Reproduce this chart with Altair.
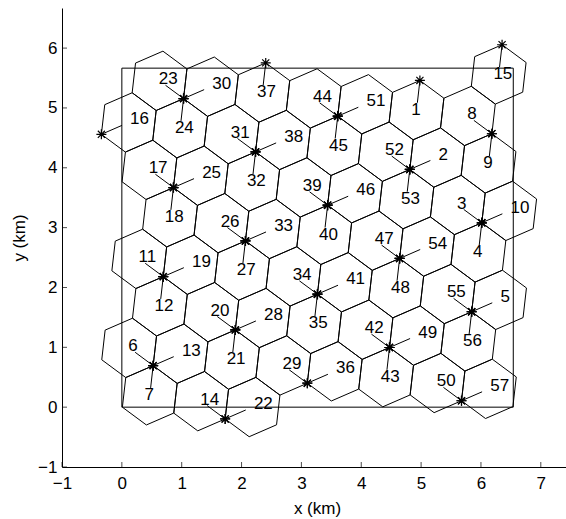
import math
import altair as alt
import pandas as pd

# ---- data (km) ----
# base-station sites (stars)
site_x = [4.980, 4.811, 6.014, 5.845, 0.523, 6.183, 0.692, 1.726, 6.353, -0.342, 0.862, 1.896,
          1.031, 2.065, 3.099, 2.234, 3.268, 2.404, 3.438, 4.472, 3.607, 4.641, 5.675]
site_y = [5.459, 3.972, 3.081, 1.594, 0.694, 4.569, 2.181, -0.197, 6.056, 4.559, 3.669, 1.291,
          5.156, 2.778, 0.400, 4.266, 1.888, 5.753, 3.375, 0.997, 4.862, 2.485, 0.107]
# cell number of each sector (a = upper-left, b = right, c = down); 0 = not drawn
cell_a = [0, 52, 3, 55, 6, 8, 11, 14, 0, 0, 17, 20, 23, 26, 29, 31, 34, 0, 39, 42, 44, 47, 50]
cell_b = [0, 2, 10, 5, 13, 0, 19, 22, 0, 16, 25, 28, 30, 33, 36, 38, 41, 0, 46, 49, 51, 54, 57]
cell_c = [1, 53, 4, 56, 7, 9, 12, 0, 15, 0, 18, 21, 24, 27, 0, 32, 35, 37, 40, 43, 45, 48, 0]

sector_angle = [143.5, 23.5, 263.5]       # antenna direction (deg)
label_dx = [-0.414, 0.480, -0.145]        # label anchor offset from site (km)
label_dy = [0.322, 0.248, -0.490]
cell_radius = 0.499                        # hexagon circumradius (km)
vertex_angle0 = 23.5                       # hexagon orientation (deg)
beam_len = 0.375                           # sector line length (km)

region_w = 6.54                            # wrap-around rectangle
region_h = 5.665

x_ticks = [-1, 0, 1, 2, 3, 4, 5, 6, 7]
y_ticks = [-1, 0, 1, 2, 3, 4, 5, 6]
x_dom = [-1, 7.421]
y_dom = [-1, 6.67]

# ---- build tables ----
hex_rows, beam_rows, star_rows, label_rows = [], [], [], []
for i, (sx, sy) in enumerate(zip(site_x, site_y)):
    cells = [cell_a[i], cell_b[i], cell_c[i]]
    for s in range(3):
        cid = cells[s]
        if not cid:
            continue
        ph = math.radians(sector_angle[s])
        cx = sx + cell_radius * math.cos(ph)
        cy = sy + cell_radius * math.sin(ph)
        for k in range(7):
            va = math.radians(vertex_angle0 + 60 * k)
            hex_rows.append({"cell": cid, "k": k,
                             "x": cx + cell_radius * math.cos(va),
                             "y": cy + cell_radius * math.sin(va)})
        beam_rows.append({"x": sx, "y": sy,
                          "x2": sx + beam_len * math.cos(ph),
                          "y2": sy + beam_len * math.sin(ph)})
        star_rows.append({"x": sx, "y": sy})
        label_rows.append({"x": sx + label_dx[s], "y": sy + label_dy[s], "t": str(cid)})

hex_df = pd.DataFrame(hex_rows)
beam_df = pd.DataFrame(beam_rows)
star_df = pd.DataFrame(star_rows)
label_df = pd.DataFrame(label_rows)
rect_df = pd.DataFrame({"x": [0], "y": [0], "x2": [region_w], "y2": [region_h]})
xt_df = pd.DataFrame({"x": x_ticks, "y": [y_dom[0]] * len(x_ticks)})
yt_df = pd.DataFrame({"x": [x_dom[0]] * len(y_ticks), "y": y_ticks})

FONT = "Liberation Sans"
FS = 17

xaxis = alt.Axis(values=x_ticks, ticks=False, tickSize=0, grid=False, domainColor="black",
                 domainWidth=1, labelColor="black", labelFont=FONT, labelFontSize=FS,
                 labelPadding=8, labelFlush=False, labelOverlap=False, format="d",
                 title="x (km)", titleFont=FONT, titleFontSize=FS, titleFontWeight="normal",
                 titleColor="black", titleX=255, titleY=41, titleBaseline="middle")
yaxis = alt.Axis(values=y_ticks, ticks=False, tickSize=0, grid=False, domainColor="black",
                 domainWidth=1, labelColor="black", labelFont=FONT, labelFontSize=FS,
                 labelPadding=5, labelFlush=False, labelOverlap=False, format="d",
                 title="y (km)", titleFont=FONT, titleFontSize=FS, titleFontWeight="normal",
                 titleColor="black", titleX=-43, titleBaseline="middle")

X = alt.X("x:Q", scale=alt.Scale(domain=x_dom, nice=False, zero=False), axis=xaxis)
Y = alt.Y("y:Q", scale=alt.Scale(domain=y_dom, nice=False, zero=False), axis=yaxis)

hexes = alt.Chart(hex_df).mark_line(color="black", strokeWidth=1, clip=True).encode(
    x=X, y=Y, detail="cell:N", order="k:Q")
rect = alt.Chart(rect_df).mark_rect(filled=False, stroke="black", strokeWidth=1, fill=None).encode(
    x=X, y=Y, x2="x2", y2="y2")
beams = alt.Chart(beam_df).mark_rule(color="black", strokeWidth=1).encode(
    x=X, y=Y, x2="x2", y2="y2")
STAR = "M0,-1L0,1M-1,0L1,0M-0.71,-0.71L0.71,0.71M-0.71,0.71L0.71,-0.71"
stars = alt.Chart(star_df).mark_point(shape=STAR, size=100, filled=False, stroke="black",
                                      strokeWidth=1.2, opacity=1).encode(x=X, y=Y)
labels = alt.Chart(label_df).mark_text(align="left", baseline="middle", font=FONT,
                                       fontSize=FS, color="black").encode(x=X, y=Y, text="t:N")
xt = alt.Chart(xt_df).mark_tick(orient="vertical", size=5, thickness=1, yOffset=-2.5,
                                color="black").encode(x=X, y=Y)
yt = alt.Chart(yt_df).mark_tick(orient="horizontal", size=5, thickness=1, xOffset=2.5,
                                color="black").encode(x=X, y=Y)

chart = alt.layer(rect, hexes, beams, stars, labels, xt, yt).properties(
    width=504, height=459,
    autosize=alt.AutoSizeParams(type="none"),
    padding={"left": 62, "top": 8, "right": 0, "bottom": 52},
    background="white",
).configure_view(stroke=None)

chart.save("out.html", embed_options={"renderer": "svg", "actions": False})
